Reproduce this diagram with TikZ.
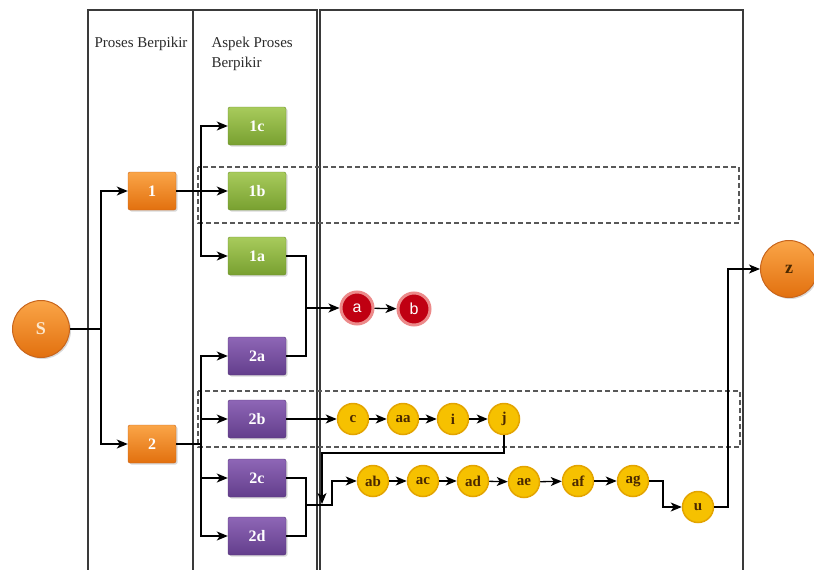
\documentclass[tikz,border=0pt]{standalone}
\usepackage{fontspec}
\setmainfont{Liberation Serif}
\newfontfamily\labelsans{Liberation Sans}
\usetikzlibrary{arrows.meta,shadows}

\definecolor{frameC}{HTML}{3A3A3A}
\definecolor{headC}{HTML}{2A2A2A}
\definecolor{orgTop}{HTML}{FAA548}
\definecolor{orgBot}{HTML}{E2700E}
\definecolor{orgLine}{HTML}{C8651C}
\definecolor{grnTop}{HTML}{A8CB5C}
\definecolor{grnBot}{HTML}{78A030}
\definecolor{grnLine}{HTML}{6A8E2A}
\definecolor{purTop}{HTML}{8E66B6}
\definecolor{purBot}{HTML}{633E8C}
\definecolor{purLine}{HTML}{55357A}
\definecolor{redC}{HTML}{C00012}
\definecolor{redHalo}{HTML}{EC8A8A}
\definecolor{yelC}{HTML}{F6C100}
\definecolor{yelLine}{HTML}{E3A400}
\definecolor{brownT}{HTML}{4A2800}
\definecolor{creamT}{HTML}{FCE8CE}

\tikzset{
  frame/.style={draw=frameC, line width=1.3pt},
  band/.style={draw=frameC!85, line width=1.1pt, dash pattern=on 5pt off 3pt},
  link/.style={draw=black, line width=1.3pt},
  flow/.style={link, -{Stealth[length=11pt,width=9pt,inset=3pt]}},
  head/.style={anchor=base west, text=headC, font=\fontsize{15}{15}\selectfont},
  box/.style={rounded corners=2pt, minimum height=38pt, inner sep=0pt,
    text=white, font=\fontsize{16}{16}\selectfont\bfseries,
    drop shadow={opacity=0.3, shadow xshift=1.5pt, shadow yshift=-1.5pt}},
  stepbox/.style={box, minimum width=48pt, top color=orgTop, bottom color=orgBot, draw=orgLine},
  greenbox/.style={box, minimum width=58pt, top color=grnTop, bottom color=grnBot, draw=grnLine},
  purplebox/.style={box, minimum width=58pt, top color=purTop, bottom color=purBot, draw=purLine},
  bigball/.style={circle, minimum size=57pt, inner sep=0pt, top color=orgTop, bottom color=orgBot,
    draw=orgLine, line width=1pt, font=\fontsize{18}{18}\selectfont\bfseries,
    drop shadow={opacity=0.3, shadow xshift=1.5pt, shadow yshift=-1.5pt}},
  redball/.style={circle, minimum size=32pt, inner sep=0pt, fill=redC, draw=redHalo, line width=3pt,
    text=white, font=\labelsans\fontsize{16}{16}\selectfont},
  yelball/.style={circle, minimum size=31pt, inner sep=0pt, fill=yelC, draw=yelLine, line width=1.5pt,
    text=brownT, font=\fontsize{15}{15}\selectfont\bfseries},
}

\begin{document}
\begin{tikzpicture}[x=1pt,y=-1pt]
\useasboundingbox (0,0) rectangle (814,570);

% column frames
\draw[frame] (88,580) -- (88,10) -- (317,10) -- (317,580);
\draw[frame] (193,10) -- (193,580);
\draw[frame] (320,580) -- (320,10) -- (743,10) -- (743,580);

% column headings
\node[head] (h1) at (91,47) {Proses Berpikir};
\node[head] (h2) at (208,47) {Aspek Proses};
\node[head] (h3) at (208,67) {Berpikir};

% dashed bands
\draw[band] (198,167) rectangle (739,223);
\draw[band] (198,391) rectangle (740,447);

% nodes
\node[bigball, text=creamT] (S) at (41,329) {S};
\node[bigball, text=brownT] (z) at (789,269) {z};

\node[stepbox] (p1) at (152,191) {1};
\node[stepbox] (p2) at (152,444) {2};

\node[greenbox] (a1c) at (257,126) {1c};
\node[greenbox] (a1b) at (257,191) {1b};
\node[greenbox] (a1a) at (257,256) {1a};
\node[purplebox] (a2a) at (257,356) {2a};
\node[purplebox] (a2b) at (257,419) {2b};
\node[purplebox] (a2c) at (257,478) {2c};
\node[purplebox] (a2d) at (257,536) {2d};

\node[redball] (ra) at (357,308) {a};
\node[redball] (rb) at (414,309) {b};

\node[yelball] (c)  at (353,419) {c};
\node[yelball] (aa) at (403,419) {aa};
\node[yelball] (i)  at (453,419) {i};
\node[yelball] (j)  at (504,419) {j};

\node[yelball] (ab) at (373,481) {ab};
\node[yelball] (ac) at (423,481) {ac};
\node[yelball] (ad) at (473,481) {ad};
\node[yelball] (ae) at (524,482) {ae};
\node[yelball] (af) at (578,481) {af};
\node[yelball] (ag) at (633,481) {ag};
\node[yelball] (u)  at (698,507) {u};

% junction points
\coordinate (busS) at (101,329);
\coordinate (bus1) at (201,191);
\coordinate (bus2) at (201,444);
\coordinate (m1) at (306,308);
\coordinate (m2) at (306,505);
\coordinate (m2b) at (332,505);
\coordinate (jturn) at (322,453);
\coordinate (jend) at (322,504);
\coordinate (agt) at (663,481);
\coordinate (ut) at (728,507);

% connectors
\draw[link] (S) -- (busS);
\draw[flow] (busS) |- (p1);
\draw[flow] (busS) |- (p2);

\draw[flow] (p1) -- (a1b);
\draw[flow] (bus1) |- (a1c);
\draw[flow] (bus1) |- (a1a);

\draw[link] (p2) -- (bus2);
\draw[flow] (bus2) |- (a2a);
\draw[flow] (bus2) |- (a2b);
\draw[flow] (bus2) |- (a2c);
\draw[flow] (bus2) |- (a2d);

\draw[link] (a1a.east) -| (m1);
\draw[link] (a2a.east) -| (m1);
\draw[flow] (m1) -- (ra);
\draw[flow] (ra) -- (rb);

\draw[flow] (a2b) -- (c);
\draw[flow] (c) -- (aa);
\draw[flow] (aa) -- (i);
\draw[flow] (i) -- (j);
\draw[flow] (j.south) |- (jturn) -- (jend);

\draw[link] (a2c.east) -| (m2);
\draw[link] (a2d.east) -| (m2);
\draw[flow] (m2) -- (m2b) |- (ab);
\draw[flow] (ab) -- (ac);
\draw[flow] (ac) -- (ad);
\draw[flow] (ad) -- (ae);
\draw[flow] (ae) -- (af);
\draw[flow] (af) -- (ag);
\draw[flow] (ag) -- (agt) |- (u);
\draw[flow] (u) -- (ut) |- (z);
\end{tikzpicture}
\end{document}
